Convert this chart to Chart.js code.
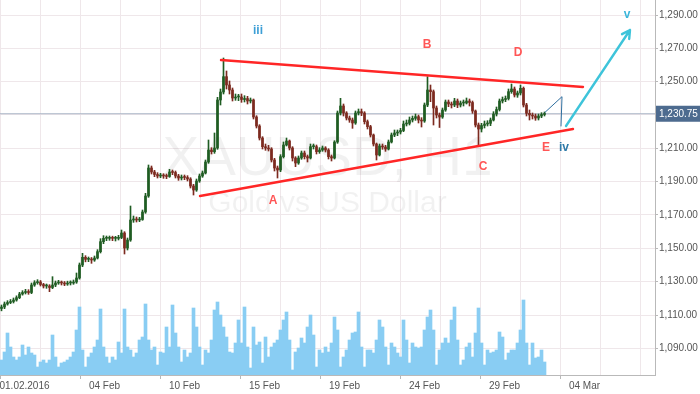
<!DOCTYPE html>
<html>
<head>
<meta charset="utf-8">
<script src="https://cdn.jsdelivr.net/npm/chart.js@4.4.1/dist/chart.umd.min.js"></script>
<style>
  html, body { margin: 0; padding: 0; background: #fff; overflow: hidden; }
  canvas { display: block; }
</style>
</head>
<body>
<canvas id="chart" width="700" height="394"></canvas>
<script>
// XAUUSD H1, 01.02.2016 - 02.03.2016, triangle wave count
const GRID = '#efe7ea'
const AXIS = '#b9b9b9'
const TEXT = '#555555'
const FONT = '"Liberation Sans", Arial, sans-serif'
const UP = '#1f5c22'
const DOWN = '#7c2a1f'
const HOURS_PER_CANDLE = 3

// price data (one candle = 3 hours), open = previous close
const firstOpen = 1113.9
const closes = [
  1114.8, 1116.6, 1117.5, 1118.1, 1119.0, 1120.4, 1122.6, 1123.5, 1124.1, 1123.5,
  1128.0, 1129.4, 1129.8, 1128.3, 1127.4, 1127.4, 1126.5, 1128.0, 1129.2, 1129.5,
  1129.2, 1128.6, 1129.2, 1129.2, 1129.8, 1132.2, 1140.0, 1144.6, 1143.4, 1143.4,
  1143.0, 1144.2, 1148.0, 1154.0, 1156.0, 1156.0, 1156.2, 1156.0, 1156.0, 1156.5,
  1159.2, 1150.2, 1155.0, 1167.0, 1167.6, 1167.0, 1167.3, 1171.8, 1181.4, 1198.2,
  1195.8, 1194.3, 1193.4, 1193.7, 1193.4, 1193.1, 1195.8, 1195.5, 1193.4, 1192.2,
  1192.8, 1192.5, 1191.6, 1187.4, 1185.0, 1190.4, 1193.4, 1195.2, 1201.8, 1209.0,
  1208.0, 1210.2, 1239.0, 1243.8, 1253.0, 1248.0, 1245.0, 1240.2, 1240.8, 1240.8,
  1239.3, 1239.9, 1238.4, 1239.0, 1228.8, 1223.4, 1216.2, 1211.0, 1210.2, 1209.6,
  1203.0, 1198.2, 1197.0, 1205.0, 1212.0, 1214.4, 1210.2, 1204.2, 1201.2, 1204.2,
  1207.2, 1205.0, 1204.2, 1211.0, 1211.0, 1208.0, 1209.0, 1210.2, 1209.0, 1205.0,
  1204.2, 1213.8, 1231.2, 1235.4, 1231.2, 1228.2, 1227.0, 1225.2, 1231.2, 1232.0,
  1231.2, 1226.0, 1223.0, 1218.0, 1212.6, 1206.0, 1211.4, 1210.8, 1209.6, 1213.8,
  1218.0, 1219.2, 1219.8, 1220.7, 1224.6, 1225.0, 1227.0, 1228.0, 1229.0, 1227.0,
  1226.4, 1236.0, 1245.0, 1244.0, 1234.2, 1230.0, 1228.8, 1233.0, 1237.8, 1236.6,
  1236.0, 1238.4, 1236.0, 1237.2, 1237.2, 1238.4, 1237.5, 1232.4, 1224.0, 1221.6,
  1223.7, 1224.6, 1225.0, 1227.0, 1230.6, 1233.3, 1238.4, 1239.3, 1239.9, 1244.0,
  1245.6, 1242.0, 1243.2, 1246.0, 1236.0, 1231.0, 1230.0, 1229.4, 1228.2, 1229.4,
  1230.3, 1230.75
]
const highs = [
  1116.0, 1117.8, 1118.6, 1119.3, 1120.2, 1121.5, 1123.6, 1124.6, 1125.4, 1125.2,
  1129.2, 1130.6, 1131.2, 1130.7, 1129.0, 1128.6, 1128.2, 1133.0, 1130.4, 1130.8,
  1130.4, 1130.1, 1130.3, 1130.5, 1131.0, 1135.2, 1141.2, 1147.0, 1145.6, 1144.8,
  1144.5, 1145.4, 1149.2, 1155.8, 1157.6, 1157.4, 1157.4, 1157.3, 1157.2, 1157.8,
  1161.0, 1160.0, 1156.2, 1175.4, 1169.4, 1168.8, 1168.6, 1173.0, 1183.0, 1200.0,
  1199.4, 1196.8, 1195.4, 1195.0, 1194.8, 1194.6, 1197.4, 1197.0, 1196.4, 1194.4,
  1194.0, 1194.0, 1193.6, 1192.4, 1188.4, 1191.6, 1194.6, 1196.4, 1203.0, 1215.0,
  1210.4, 1219.2, 1240.6, 1245.6, 1264.2, 1256.4, 1250.4, 1246.2, 1242.6, 1242.4,
  1242.6, 1241.6, 1241.2, 1240.2, 1239.6, 1229.6, 1224.2, 1217.0, 1212.6, 1211.8,
  1210.4, 1204.0, 1199.4, 1206.2, 1213.8, 1216.2, 1215.0, 1211.0, 1205.0, 1205.4,
  1208.4, 1208.4, 1206.0, 1212.6, 1212.6, 1212.0, 1210.4, 1211.4, 1211.0, 1209.8,
  1206.0, 1214.6, 1232.4, 1240.0, 1236.6, 1232.0, 1229.4, 1228.2, 1232.4, 1233.6,
  1233.6, 1232.0, 1227.0, 1223.8, 1218.6, 1213.2, 1212.6, 1212.6, 1211.8, 1215.0,
  1219.2, 1221.0, 1221.0, 1222.0, 1226.4, 1227.0, 1228.8, 1229.4, 1230.6, 1230.0,
  1228.4, 1237.2, 1253.0, 1248.0, 1245.0, 1235.4, 1231.2, 1234.2, 1239.0, 1239.0,
  1237.8, 1240.0, 1239.6, 1238.4, 1239.0, 1240.2, 1239.6, 1238.4, 1233.0, 1225.2,
  1225.0, 1226.4, 1226.6, 1228.2, 1232.0, 1234.8, 1239.6, 1240.8, 1241.4, 1245.6,
  1248.6, 1246.8, 1244.4, 1248.0, 1246.8, 1237.0, 1233.0, 1231.2, 1230.6, 1230.6,
  1231.4, 1231.8
]
const lows = [
  1112.5, 1113.8, 1115.9, 1116.8, 1117.2, 1118.3, 1119.8, 1121.9, 1122.6, 1122.4,
  1122.8, 1127.2, 1128.5, 1127.4, 1126.2, 1126.0, 1124.0, 1125.8, 1127.0, 1128.4,
  1128.0, 1127.6, 1127.8, 1128.0, 1128.4, 1129.0, 1131.5, 1139.0, 1141.9, 1142.0,
  1141.0, 1142.2, 1143.6, 1147.2, 1152.8, 1154.6, 1154.8, 1154.6, 1154.4, 1155.0,
  1155.8, 1146.6, 1149.0, 1154.2, 1165.6, 1165.8, 1166.0, 1166.8, 1171.0, 1180.6,
  1194.6, 1193.0, 1192.2, 1192.4, 1192.0, 1191.8, 1192.6, 1194.2, 1192.2, 1190.8,
  1191.0, 1191.2, 1190.4, 1186.2, 1182.0, 1184.2, 1189.6, 1192.6, 1194.6, 1201.0,
  1206.6, 1207.0, 1209.4, 1236.0, 1242.6, 1245.6, 1242.6, 1238.4, 1238.8, 1238.6,
  1237.6, 1237.8, 1236.6, 1237.2, 1227.6, 1222.2, 1215.0, 1209.6, 1208.8, 1208.4,
  1201.8, 1196.4, 1192.2, 1196.0, 1204.2, 1211.4, 1209.0, 1202.4, 1199.0, 1200.4,
  1203.4, 1203.6, 1201.8, 1203.6, 1209.6, 1206.6, 1207.0, 1208.2, 1207.8, 1203.6,
  1202.4, 1203.6, 1213.0, 1230.0, 1229.4, 1227.0, 1225.6, 1222.0, 1224.4, 1230.0,
  1229.6, 1224.6, 1221.6, 1216.8, 1211.4, 1203.0, 1205.4, 1209.4, 1208.2, 1209.0,
  1213.2, 1217.0, 1217.6, 1218.6, 1220.0, 1223.4, 1224.0, 1225.8, 1226.8, 1225.2,
  1222.8, 1225.6, 1235.0, 1238.0, 1224.0, 1228.2, 1222.5, 1228.0, 1232.2, 1235.0,
  1234.2, 1235.0, 1234.4, 1234.8, 1235.4, 1236.6, 1235.4, 1231.0, 1222.8, 1212.0,
  1219.8, 1222.2, 1223.4, 1223.6, 1226.4, 1229.4, 1232.4, 1237.2, 1238.0, 1239.0,
  1243.0, 1240.8, 1240.6, 1242.0, 1234.8, 1229.4, 1227.0, 1227.6, 1226.8, 1227.0,
  1228.4, 1229.4
]
const volumes = [
  15, 23, 42, 28, 18, 15, 18, 30, 20, 28,
  22, 20, 8, 13, 15, 12, 15, 40, 18, 8,
  12, 13, 15, 18, 23, 45, 68, 25, 8, 18,
  22, 28, 35, 66, 28, 18, 12, 18, 15, 33,
  22, 66, 28, 25, 18, 22, 35, 38, 71, 35,
  25, 28, 10, 23, 22, 48, 28, 70, 42, 28,
  13, 25, 18, 22, 67, 48, 28, 10, 25, 22,
  35, 65, 73, 60, 48, 38, 23, 22, 32, 55,
  32, 68, 28, 7, 48, 30, 33, 12, 38, 18,
  28, 32, 35, 45, 55, 63, 35, 5, 23, 27,
  37, 32, 48, 60, 40, 8, 25, 22, 28, 23,
  32, 58, 45, 8, 18, 25, 35, 42, 43, 63,
  28, 8, 25, 25, 22, 35, 55, 48, 28, 10,
  32, 28, 22, 18, 55, 35, 12, 32, 28, 27,
  28, 45, 58, 65, 45, 10, 25, 32, 37, 32,
  55, 68, 35, 10, 15, 28, 32, 18, 42, 67,
  32, 10, 25, 22, 23, 25, 43, 38, 15, 22,
  25, 25, 32, 45, 75, 32, 10, 32, 17, 18,
  25, 13
]

// axis
const xTickHours = [20.5, 100.5, 180.5, 260.5, 340.5, 420.5, 500.5, 580.5]
const xTickLabels = ['01.02.2016', '04 Feb', '10 Feb', '15 Feb', '19 Feb', '24 Feb', '29 Feb', '04 Mar']
const yTickValues = [1090, 1110, 1130, 1150, 1170, 1190, 1210, 1230, 1250, 1270, 1290]
const lastPrice = 1230.75

// drawings (hour, price)
const trendLines = [
  [[221, 1263.0], [583, 1246.8]],
  [[200, 1181.4], [573, 1221.6]]
]
const ivPath = [[545, 1231.6], [562, 1241.0], [561, 1223.4]]
const vArrow = [[566, 1223.4], [630, 1281.0]]
const waveLabels = ['iii', 'B', 'D', 'A', 'C', 'E', 'iv', 'v']
const waveLabelHours = [258, 427, 518, 273, 483, 546, 564, 627]
const waveLabelPrices = [1280.4, 1272.0, 1267.2, 1178.4, 1198.8, 1210.2, 1210.2, 1290.0]

const opens = closes.map((c, i) => i === 0 ? firstOpen : closes[i - 1])
const candleX = i => i * HOURS_PER_CANDLE + 1.5
const candleColors = closes.map((c, i) => c >= opens[i] ? UP : DOWN)
const gridHours = xTickHours.flatMap(h => [h, h + 40])

const fmtPrice = v => v.toLocaleString('en-US', { minimumFractionDigits: 2, maximumFractionDigits: 2 })

const LABEL_COLORS = { iii: '#3d9fd6', iv: '#2f7aa8', v: '#3bb6da' }

const drawings = {
  id: 'drawings',
  beforeDatasetsDraw: (chart) => {
    const { ctx, chartArea, scales } = chart
    ctx.save()
    // watermark
    ctx.fillStyle = 'rgba(0,0,0,0.055)'
    ctx.textAlign = 'center'
    ctx.textBaseline = 'middle'
    const cx = (chartArea.left + chartArea.right) / 2
    ctx.font = '55px ' + FONT
    ctx.fillText('XAUUSD, H1', cx, 160)
    ctx.font = '30px ' + FONT
    ctx.fillText('Gold vs US Dollar', cx, 204)
    // last price line
    const py = scales.y.getPixelForValue(lastPrice)
    ctx.strokeStyle = '#a8b5c6'
    ctx.lineWidth = 1.2
    ctx.beginPath()
    ctx.moveTo(chartArea.left, py)
    ctx.lineTo(chartArea.right, py)
    ctx.stroke()
    ctx.restore()
  },
  afterDatasetsDraw: (chart) => {
    const { ctx, scales } = chart
    const px = p => [scales.x.getPixelForValue(p[0]), scales.y.getPixelForValue(p[1])]
    ctx.save()
    ctx.lineCap = 'round'

    // triangle
    ctx.strokeStyle = '#ff2626'
    ctx.lineWidth = 2.4
    trendLines.forEach(line => {
      const a = px(line[0]), b = px(line[1])
      ctx.beginPath()
      ctx.moveTo(a[0], a[1])
      ctx.lineTo(b[0], b[1])
      ctx.stroke()
    })

    // wave iv projection
    ctx.strokeStyle = '#2f6f9f'
    ctx.lineWidth = 1
    ctx.beginPath()
    ivPath.forEach((p, i) => {
      const q = px(p)
      i ? ctx.lineTo(q[0], q[1]) : ctx.moveTo(q[0], q[1])
    })
    ctx.stroke()

    // wave v arrow
    const a = px(vArrow[0]), b = px(vArrow[1])
    ctx.strokeStyle = '#3ec4da'
    ctx.lineWidth = 2.4
    ctx.beginPath()
    ctx.moveTo(a[0], a[1])
    ctx.lineTo(b[0], b[1])
    const ang = Math.atan2(b[1] - a[1], b[0] - a[0])
    const head = 9
    ctx.moveTo(b[0], b[1])
    ctx.lineTo(b[0] - head * Math.cos(ang - 0.5), b[1] - head * Math.sin(ang - 0.5))
    ctx.moveTo(b[0], b[1])
    ctx.lineTo(b[0] - head * Math.cos(ang + 0.5), b[1] - head * Math.sin(ang + 0.5))
    ctx.stroke()

    // labels
    ctx.textAlign = 'center'
    ctx.textBaseline = 'middle'
    ctx.font = 'bold 12px ' + FONT
    waveLabels.forEach((t, i) => {
      const q = px([waveLabelHours[i], waveLabelPrices[i]])
      ctx.fillStyle = LABEL_COLORS[t] || '#ff5656'
      ctx.fillText(t, q[0], q[1])
    })
    ctx.restore()
  },
  afterDraw: (chart) => {
    const { ctx, chartArea, scales } = chart
    const py = scales.y.getPixelForValue(lastPrice)
    ctx.save()
    ctx.fillStyle = '#4d6b8f'
    ctx.fillRect(chartArea.right + 1, py - 8, chart.width - chartArea.right - 1, 16)
    ctx.fillStyle = '#ffffff'
    ctx.font = '10px ' + FONT
    ctx.textAlign = 'left'
    ctx.textBaseline = 'middle'
    ctx.fillText(fmtPrice(lastPrice), chartArea.right + 4, py + 0.5)
    ctx.restore()
  }
}

new Chart(document.getElementById('chart'), {
  type: 'bar',
  data: {
    datasets: [
      {
        label: 'Volume',
        yAxisID: 'vol',
        data: volumes.map((v, i) => ({ x: candleX(i), y: v })),
        backgroundColor: '#89cdf3',
        barThickness: 3,
        grouped: false,
        order: 3
      },
      {
        label: 'Wick',
        yAxisID: 'y',
        data: closes.map((c, i) => ({ x: candleX(i), y: [lows[i], highs[i]] })),
        backgroundColor: candleColors,
        barThickness: 1,
        minBarLength: 1,
        grouped: false,
        order: 2
      },
      {
        label: 'Body',
        yAxisID: 'y',
        data: closes.map((c, i) => ({ x: candleX(i), y: [opens[i], c] })),
        backgroundColor: candleColors,
        barThickness: 2,
        minBarLength: 1,
        grouped: false,
        order: 1
      }
    ]
  },
  options: {
    responsive: false,
    animation: false,
    devicePixelRatio: 1,
    layout: { padding: 0 },
    plugins: {
      legend: { display: false },
      tooltip: { enabled: false }
    },
    scales: {
      x: {
        type: 'linear',
        min: 0,
        max: 655,
        offset: false,
        afterBuildTicks: (s) => { s.ticks = gridHours.map(v => ({ value: v })) },
        afterFit: (s) => { s.height = 19; s.paddingLeft = 0; s.paddingRight = 0 },
        grid: {
          color: GRID,
          tickLength: 4,
          tickColor: (c) => (c.tick && xTickHours.includes(c.tick.value)) ? AXIS : 'rgba(0,0,0,0)'
        },
        border: { color: AXIS },
        ticks: {
          autoSkip: false,
          maxRotation: 0,
          padding: 1,
          labelOffset: 4,
          color: TEXT,
          font: { family: FONT, size: 10 },
          callback: (v) => {
            const k = xTickHours.indexOf(v)
            return k >= 0 ? xTickLabels[k] : ''
          }
        }
      },
      y: {
        position: 'right',
        min: 1074,
        max: 1299,
        afterBuildTicks: (s) => { s.ticks = yTickValues.map(v => ({ value: v })) },
        afterFit: (s) => { s.width = 45; s.paddingTop = 0; s.paddingBottom = 0 },
        grid: { color: GRID, tickLength: 3, tickColor: AXIS },
        border: { color: AXIS },
        ticks: {
          padding: 1,
          color: TEXT,
          font: { family: FONT, size: 10 },
          callback: (v) => fmtPrice(v)
        }
      },
      vol: {
        display: false,
        min: 0,
        max: 375
      }
    }
  },
  plugins: [drawings]
})
</script>
</body>
</html>
